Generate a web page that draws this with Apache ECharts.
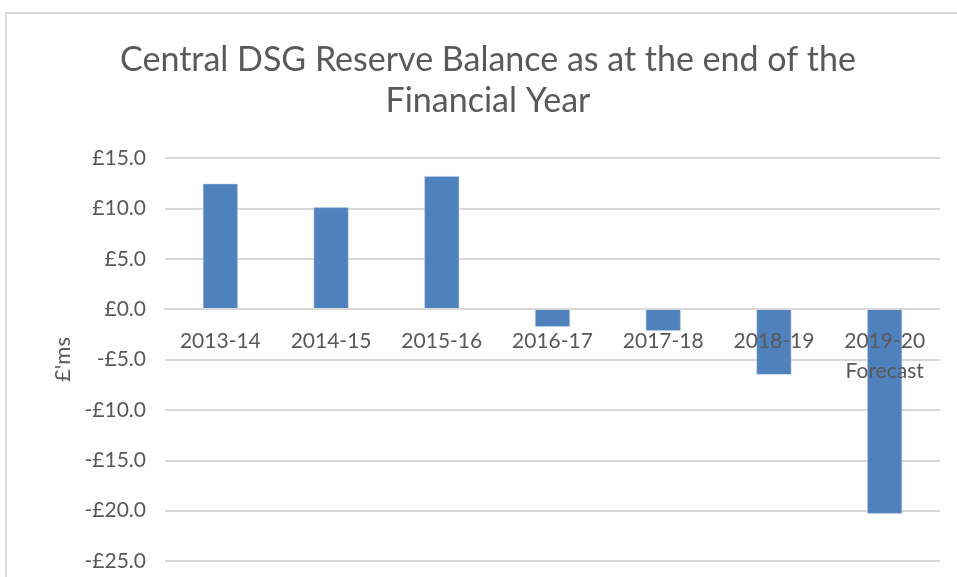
<!DOCTYPE html>
<html>
<head>
<meta charset="utf-8">
<script src="https://cdn.jsdelivr.net/npm/echarts@6/dist/echarts.min.js"></script>
<style>
  html, body { margin: 0; padding: 0; background: #ffffff; }
  #chart { width: 957px; height: 577px; }
</style>
</head>
<body>
<div id="chart"></div>
<script>
// Financial years and the reserve balance at each year end (£ millions)
const years = ['2013-14', '2014-15', '2015-16', '2016-17', '2017-18', '2018-19', '2019-20\nForecast'];
const balances = [12.45, 10.1, 13.2, -1.75, -2.15, -6.5, -20.3];

// Value axis range and step
const yMin = -25;
const yMax = 15;
const yStep = 5;

const textColor = '#595959';
const gridColor = '#d9d9d9';
const fontFamily = 'Lato, "Open Sans", sans-serif';

// Plot area edges (px)
const gridTop = 158;
const gridBottom = 16;
const chartHeight = 577;

function poundLabel(v) {
  const s = '£' + Math.abs(v).toFixed(1);
  return v < 0 ? '-' + s : s;
}

// Move the category axis up to the zero line of the value axis
const plotHeight = chartHeight - gridTop - gridBottom;
const zeroOffset = -plotHeight * (0 - yMin) / (yMax - yMin);

const chart = echarts.init(document.getElementById('chart'), null, { renderer: 'canvas' });

chart.setOption({
  backgroundColor: '#ffffff',
  animation: false,
  textStyle: { fontFamily: fontFamily },
  graphic: [{
    type: 'rect',
    silent: true,
    shape: { x: 6, y: 13, width: 1100, height: 1000 },
    style: { fill: 'none', stroke: gridColor, lineWidth: 2 }
  }],
  title: {
    text: 'Central DSG Reserve Balance as at the end of the\nFinancial Year',
    left: 483,
    textAlign: 'center',
    top: 35,
    textStyle: {
      fontFamily: fontFamily,
      fontSize: 34,
      fontWeight: 'normal',
      color: textColor,
      lineHeight: 41
    }
  },
  grid: {
    left: 165, right: 17, top: gridTop, bottom: gridBottom,
    containLabel: false,
    outerBoundsMode: 'none'
  },
  xAxis: {
    type: 'category',
    data: years,
    offset: zeroOffset,
    z: 5,
    axisLine: { onZero: false, lineStyle: { color: gridColor, width: 2 } },
    axisTick: { show: false },
    axisLabel: {
      color: textColor,
      fontSize: 21,
      lineHeight: 30,
      margin: 17,
      interval: 0,
      fontFamily: fontFamily
    },
    splitLine: { show: false }
  },
  yAxis: {
    type: 'value',
    min: yMin,
    max: yMax,
    interval: yStep,
    name: "£'ms",
    nameLocation: 'middle',
    nameRotate: 90,
    nameGap: 88,
    nameTextStyle: { color: textColor, fontSize: 22, fontFamily: fontFamily },
    axisLine: { show: false },
    axisTick: { show: false },
    axisLabel: {
      color: textColor,
      fontSize: 21,
      margin: 19,
      formatter: poundLabel,
      fontFamily: fontFamily
    },
    splitLine: { show: true, lineStyle: { color: gridColor, width: 2 } }
  },
  series: [{
    type: 'bar',
    z: 2,
    data: balances,
    barWidth: '31.5%',
    itemStyle: { color: '#4f81bd', borderColor: '#c9d7ea', borderWidth: 0.5 }
  }]
});
</script>
</body>
</html>
